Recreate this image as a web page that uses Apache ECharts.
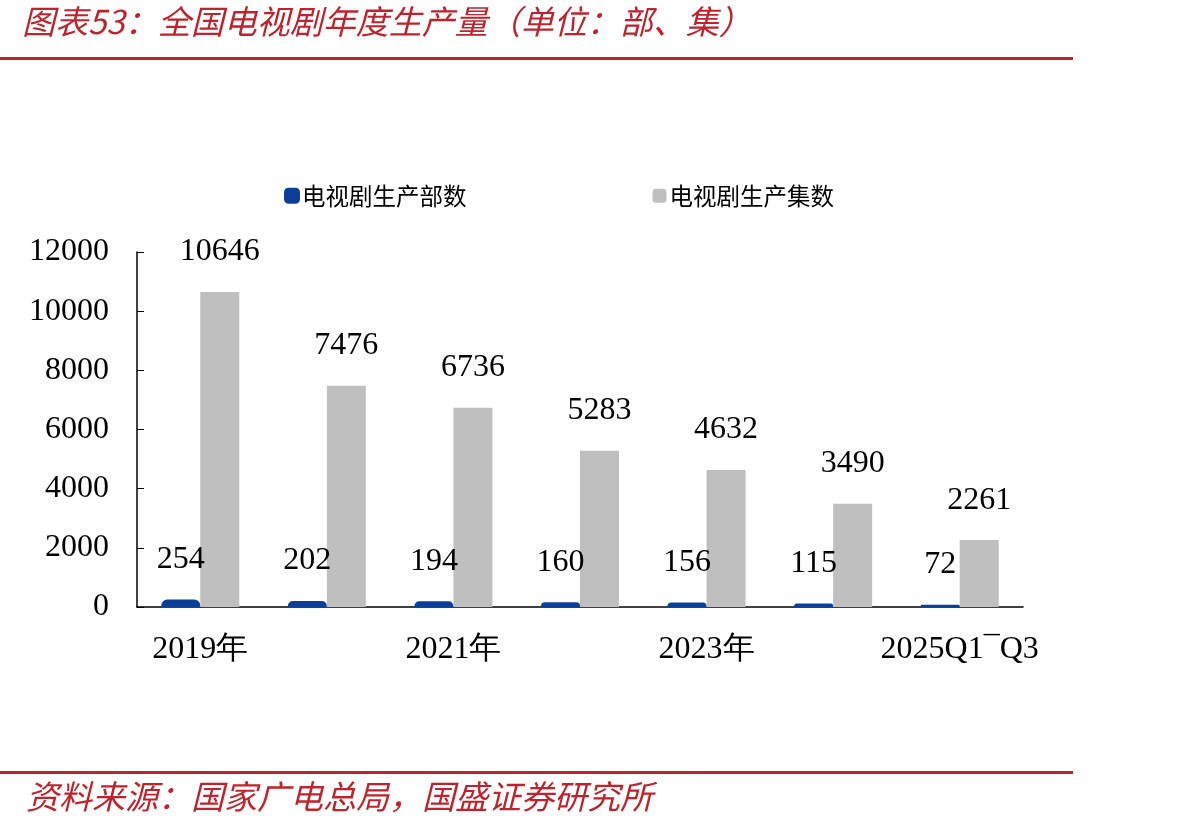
<!DOCTYPE html>
<html>
<head>
<meta charset="utf-8">
<script src="https://cdn.jsdelivr.net/npm/echarts@6/dist/echarts.min.js"></script>
<style>
html,body{margin:0;padding:0;background:#fff;}
#main{width:1192px;height:828px;}
</style>
</head>
<body>
<div id="main"></div>
<script>
const categories = ['2019年','2020年','2021年','2022年','2023年','2024年','2025Q1¯Q3'];
const seriesNames = ['电视剧生产部数','电视剧生产集数'];
const dramaCounts = [254,202,194,160,156,115,72];
const episodeCounts = [10646,7476,6736,5283,4632,3490,2261];
const yTicks = {min:0, max:12000, interval:2000};
const titleText = '图表53：全国电视剧年度生产量（单位：部、集）';
const sourceText = '资料来源：国家广电总局，国盛证券研究所';

const RED = '#C0232C';
const SERIF = '"Liberation Serif","DejaVu Serif",serif';
const CJK = '"Noto Sans CJK SC",sans-serif';

const chart = echarts.init(document.getElementById('main'));
chart.setOption({
  animation:false,
  backgroundColor:'#fff',
  title:{
    text:titleText, left:22, top:5, padding:0,
    textStyle:{color:RED, fontSize:33, fontStyle:'italic', fontWeight:'normal', fontFamily:CJK}
  },
  graphic:[
    {type:'rect', shape:{x:0,y:57,width:1073,height:3}, style:{fill:RED}},
    {type:'rect', shape:{x:0,y:771,width:1073,height:3}, style:{fill:RED}},
    {type:'text', left:26, top:780, style:{text:sourceText, fill:RED, fontSize:33, fontStyle:'italic', fontFamily:CJK}}
  ],
  legend:{
    data:seriesNames, left:284, top:184, padding:0, itemWidth:14, itemHeight:14, itemGap:186,
    icon:'roundRect',
    textStyle:{fontSize:23.5, color:'#000', fontFamily:CJK, padding:[0,0,0,-2]}
  },
  grid:{left:137, right:169, top:252, bottom:221},
  xAxis:{
    type:'category', data:categories,
    axisLine:{lineStyle:{color:'#000', width:1.5}},
    axisTick:{inside:true, length:8, lineStyle:{color:'#000'}, interval:0},
    axisLabel:{interval:1, color:'#000', fontSize:32, fontFamily:SERIF, margin:27}
  },
  yAxis:{
    type:'value', min:yTicks.min, max:yTicks.max, interval:yTicks.interval,
    splitLine:{show:false},
    axisLine:{show:true, lineStyle:{color:'#000', width:1.5}},
    axisTick:{show:true, inside:true, length:7, lineStyle:{color:'#000'}},
    axisLabel:{color:'#000', fontSize:32, fontFamily:SERIF, margin:28, formatter:v => String(v)}
  },
  series:[
    {name:seriesNames[0], type:'bar', data:dramaCounts, barWidth:39, barGap:'0%',
     itemStyle:{color:'#0B3F98', borderRadius:[5,5,0,0], borderColor:'#0B3F98', borderWidth:2},
     label:{show:true, position:'top', distance:24, color:'#000', fontSize:32, fontFamily:SERIF}},
    {name:seriesNames[1], type:'bar', data:episodeCounts, barWidth:39, barGap:'0%',
     itemStyle:{color:'#BFBFBF'},
     label:{show:true, position:'top', distance:24, color:'#000', fontSize:32, fontFamily:SERIF}}
  ]
});
</script>
</body>
</html>
